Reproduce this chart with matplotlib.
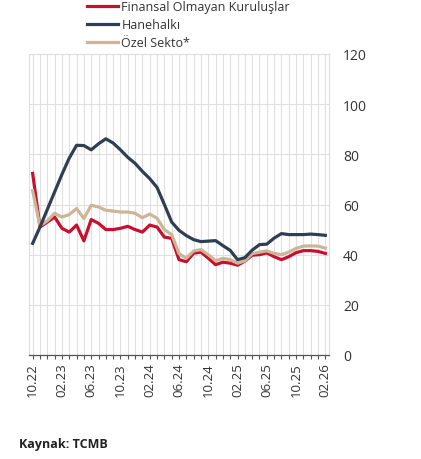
import matplotlib
matplotlib.use('Agg')
import matplotlib.pyplot as plt
import numpy as np

plt.rcParams['font.family'] = ['Open Sans', 'DejaVu Sans']

# Aylık seriler: 10.22 - 02.26
ay_etiketleri = ['10.22', '02.23', '06.23', '10.23', '02.24', '06.24',
                 '10.24', '02.25', '06.25', '10.25', '02.26']

finansal_olmayan = [72.4, 51.0, 53.0, 55.0, 50.5, 49.0, 51.8, 45.5, 54.0, 52.5,
                    50.0, 50.0, 50.5, 51.3, 50.0, 49.0, 51.8, 51.0, 47.0, 46.5,
                    38.0, 37.2, 40.6, 41.0, 38.6, 36.0, 37.0, 36.6, 35.8, 37.4,
                    39.8, 40.0, 40.7, 39.2, 38.0, 39.2, 40.8, 41.6, 41.6, 41.3,
                    40.5]

hanehalki = [44.5, 51.0, 58.0, 65.0, 72.0, 78.5, 83.6, 83.5, 81.8, 84.2,
             86.2, 84.5, 81.8, 78.8, 76.4, 73.2, 70.3, 66.8, 60.0, 53.0,
             49.7, 47.6, 46.0, 45.2, 45.4, 45.6, 43.6, 41.7, 38.0, 38.8,
             41.8, 44.0, 44.2, 46.6, 48.4, 48.0, 48.0, 48.0, 48.2, 48.0,
             47.7]

ozel_sektor = [65.5, 51.5, 53.5, 56.5, 55.0, 56.0, 58.4, 54.4, 59.7, 59.0,
               57.7, 57.4, 57.0, 57.0, 56.5, 54.7, 56.2, 54.5, 50.0, 48.0,
               40.4, 38.6, 41.5, 42.0, 40.0, 37.6, 38.5, 38.0, 36.6, 37.5,
               40.4, 41.0, 41.5, 40.5, 40.0, 41.0, 42.5, 43.4, 43.5, 43.4,
               42.6]

seriler = [
    ('Finansal Olmayan Kuruluşlar', finansal_olmayan, '#c8102e'),
    ('Hanehalkı', hanehalki, '#2f3e52'),
    ('Özel Sekto*', ozel_sektor, '#cdb597'),
]

x = np.arange(len(hanehalki))

fig = plt.figure(figsize=(4.21, 4.60), dpi=100)
ax = fig.add_axes([29 / 421, 1 - 356 / 460, 300 / 421, 301 / 460])

cizgiler = []
for ad, degerler, renk in seriler:
    ln, = ax.plot(x, degerler, color=renk, linewidth=2.3, label=ad,
                  solid_joinstyle='round', zorder=3)
    cizgiler.append(ln)

# Hanehalkı en üstte
cizgiler[1].set_zorder(4)

ax.set_xlim(-0.5, len(x) - 0.5)
ax.set_ylim(0, 120)

ax.set_xticks(x[::4])
ax.set_xticklabels(ay_etiketleri, rotation=90, fontsize=9.5, color='#333333')
ax.set_xticks(x, minor=True)
ax.tick_params(axis='x', which='both', length=3, width=0.8, color='#555555', pad=2)

ax.yaxis.tick_right()
ax.set_yticks(np.arange(0, 121, 20))
ax.tick_params(axis='y', length=0, pad=10, labelsize=10, labelcolor='#333333')

ax.grid(True, which='minor', axis='x', color='#e0e0e0', linewidth=0.8)
ax.grid(True, which='major', axis='both', color='#e0e0e0', linewidth=0.8)
ax.set_axisbelow(True)

for yer in ['top', 'left', 'right']:
    ax.spines[yer].set_color('#dddddd')
    ax.spines[yer].set_linewidth(0.8)
ax.spines['bottom'].set_color('#555555')
ax.spines['bottom'].set_linewidth(0.9)

fig.legend(handles=cizgiler, loc='upper left', bbox_to_anchor=(87 / 421, 1 - 1 / 460),
           frameon=False, fontsize=9, handlelength=2.5, handletextpad=0.25,
           labelspacing=0.4, borderpad=0, borderaxespad=0, labelcolor='#333333')

fig.text(19 / 421, 1 - 445 / 460, 'Kaynak: TCMB', fontsize=9, fontweight='bold',
         color='#222222', va='center', ha='left')

fig.savefig('out.png', dpi=100)
